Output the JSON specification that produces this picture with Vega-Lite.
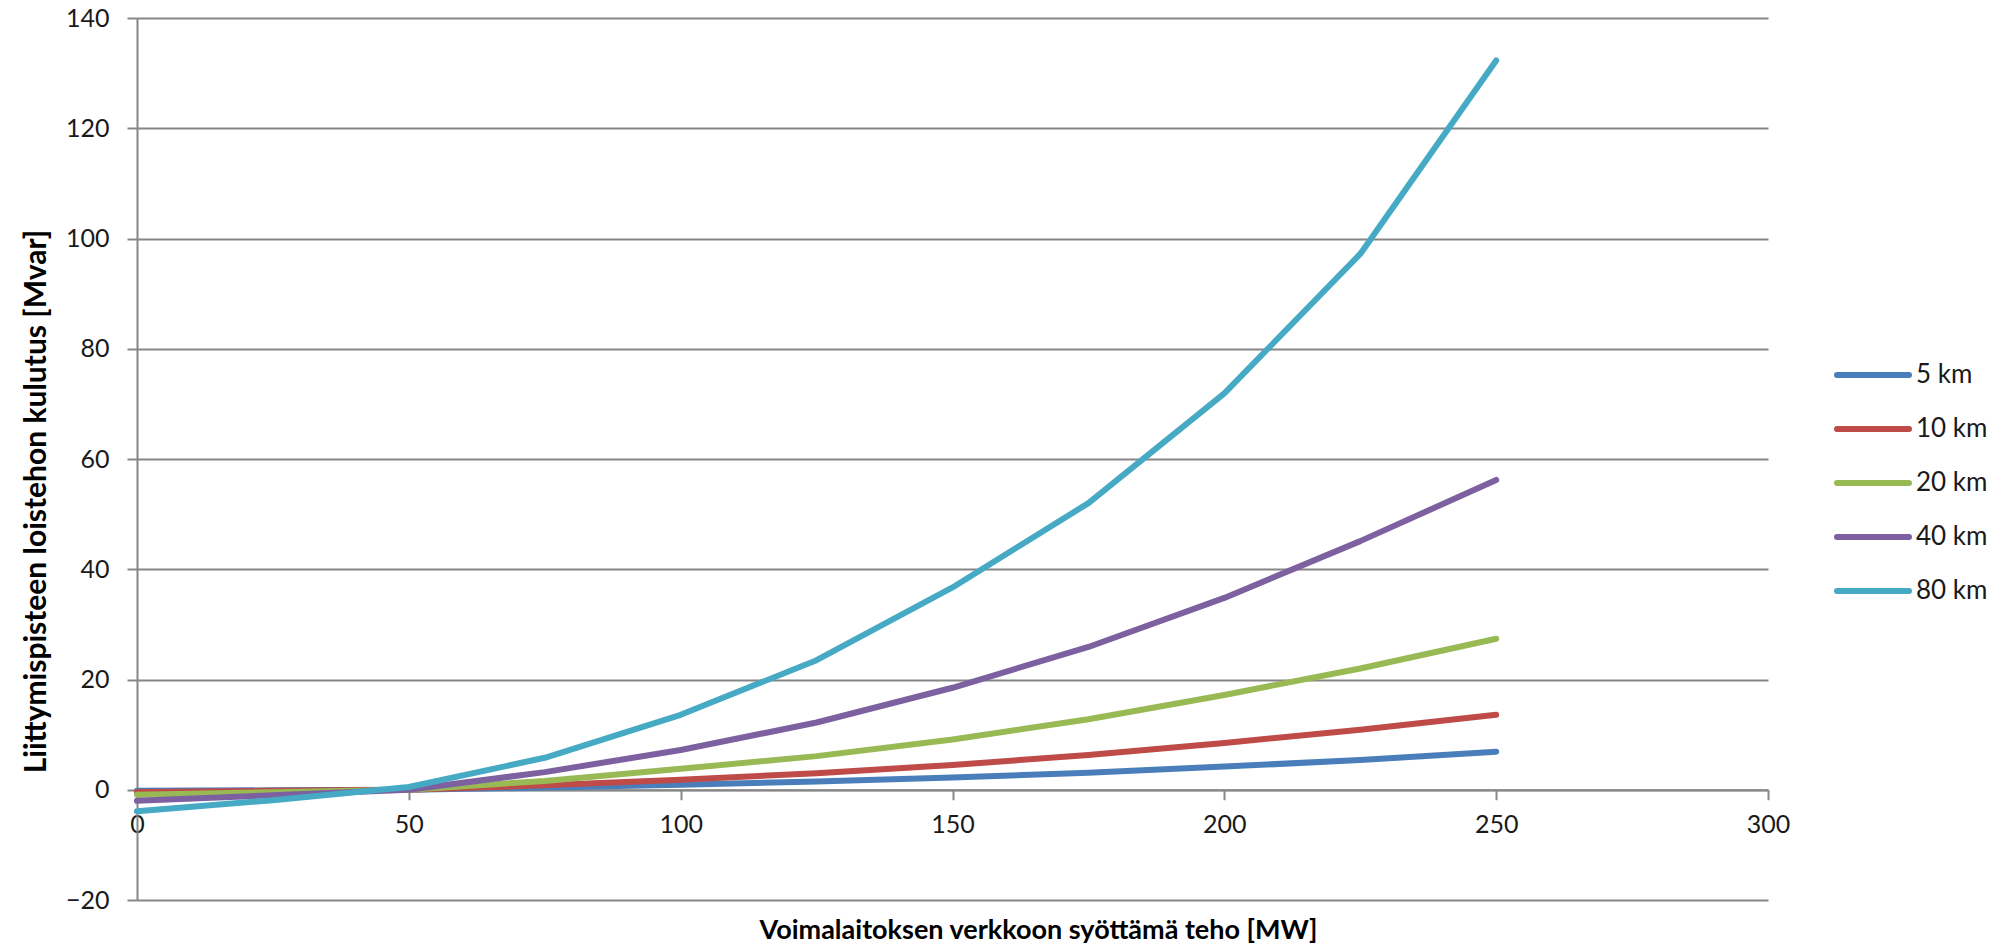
{
  "$schema": "https://vega.github.io/schema/vega-lite/v6.json",
  "autosize": "none",
  "width": 1631,
  "height": 882,
  "padding": {"left": 137, "top": 18, "right": 226, "bottom": 50},
  "background": "white",
  "config": {
    "font": "Lato",
    "view": {"stroke": null},
    "axis": {
      "labelFont": "Lato", "labelFontSize": 25, "labelColor": "#1a1a1a",
      "titleFont": "Lato", "titleFontSize": 27, "titleFontWeight": "bold", "titleColor": "#000000",
      "domainColor": "#868686", "domainWidth": 2, "tickColor": "#868686", "tickWidth": 2, "tickSize": 10,
      "gridColor": "#868686", "gridWidth": 2, "gridOpacity": 1
    }
  },
  "data": {"values": [
    {"P": 0, "S": "5 km", "Q": -0.2}, {"P": 25, "S": "5 km", "Q": -0.1}, {"P": 50, "S": "5 km", "Q": 0}, {"P": 75, "S": "5 km", "Q": 0.4}, {"P": 100, "S": "5 km", "Q": 0.9}, {"P": 125, "S": "5 km", "Q": 1.5}, {"P": 150, "S": "5 km", "Q": 2.2}, {"P": 175, "S": "5 km", "Q": 3.1}, {"P": 200, "S": "5 km", "Q": 4.2}, {"P": 225, "S": "5 km", "Q": 5.4}, {"P": 250, "S": "5 km", "Q": 6.9},
    {"P": 0, "S": "10 km", "Q": -0.4}, {"P": 25, "S": "10 km", "Q": -0.2}, {"P": 50, "S": "10 km", "Q": 0}, {"P": 75, "S": "10 km", "Q": 0.8}, {"P": 100, "S": "10 km", "Q": 1.8}, {"P": 125, "S": "10 km", "Q": 3.0}, {"P": 150, "S": "10 km", "Q": 4.5}, {"P": 175, "S": "10 km", "Q": 6.3}, {"P": 200, "S": "10 km", "Q": 8.5}, {"P": 225, "S": "10 km", "Q": 10.9}, {"P": 250, "S": "10 km", "Q": 13.6},
    {"P": 0, "S": "20 km", "Q": -0.9}, {"P": 25, "S": "20 km", "Q": -0.45}, {"P": 50, "S": "20 km", "Q": 0}, {"P": 75, "S": "20 km", "Q": 1.6}, {"P": 100, "S": "20 km", "Q": 3.8}, {"P": 125, "S": "20 km", "Q": 6.1}, {"P": 150, "S": "20 km", "Q": 9.1}, {"P": 175, "S": "20 km", "Q": 12.8}, {"P": 200, "S": "20 km", "Q": 17.2}, {"P": 225, "S": "20 km", "Q": 22.0}, {"P": 250, "S": "20 km", "Q": 27.4},
    {"P": 0, "S": "40 km", "Q": -2.0}, {"P": 25, "S": "40 km", "Q": -1.0}, {"P": 50, "S": "40 km", "Q": 0}, {"P": 75, "S": "40 km", "Q": 3.2}, {"P": 100, "S": "40 km", "Q": 7.2}, {"P": 125, "S": "40 km", "Q": 12.2}, {"P": 150, "S": "40 km", "Q": 18.5}, {"P": 175, "S": "40 km", "Q": 25.9}, {"P": 200, "S": "40 km", "Q": 34.8}, {"P": 225, "S": "40 km", "Q": 45.1}, {"P": 250, "S": "40 km", "Q": 56.2},
    {"P": 0, "S": "80 km", "Q": -3.9}, {"P": 25, "S": "80 km", "Q": -1.9}, {"P": 50, "S": "80 km", "Q": 0.5}, {"P": 75, "S": "80 km", "Q": 5.8}, {"P": 100, "S": "80 km", "Q": 13.6}, {"P": 125, "S": "80 km", "Q": 23.5}, {"P": 150, "S": "80 km", "Q": 36.7}, {"P": 175, "S": "80 km", "Q": 52.0}, {"P": 200, "S": "80 km", "Q": 71.9}, {"P": 225, "S": "80 km", "Q": 97.2}, {"P": 250, "S": "80 km", "Q": 132.3}
  ]},
  "mark": {"type": "line", "strokeWidth": 6, "strokeCap": "round", "strokeJoin": "round"},
  "encoding": {
    "x": {
      "field": "P", "type": "quantitative",
      "scale": {"domain": [0, 300], "nice": false, "zero": false},
      "axis": {
        "title": "Voimalaitoksen verkkoon syöttämä teho [MW]",
        "values": [0, 50, 100, 150, 200, 250, 300],
        "grid": false, "offset": -110.25, "labelPadding": 13,
        "labelFlush": false, "labelOverlap": false,
        "titleX": 901, "titleY": 141, "titleBaseline": "middle", "titleAnchor": null
      }
    },
    "y": {
      "field": "Q", "type": "quantitative",
      "scale": {"domain": [-20, 140], "nice": false, "zero": false},
      "axis": {
        "title": "Liittymispisteen loistehon kulutus [Mvar]",
        "titleFontSize": 30,
        "values": [-20, 0, 20, 40, 60, 80, 100, 120, 140],
        "grid": true, "labelPadding": 18,
        "titleX": -101, "titleY": 483, "titleBaseline": "middle", "titleAlign": "center", "titleAngle": -90
      }
    },
    "color": {
      "field": "S", "type": "nominal",
      "sort": ["5 km", "10 km", "20 km", "40 km", "80 km"],
      "scale": {"domain": ["5 km", "10 km", "20 km", "40 km", "80 km"], "range": ["#4A7EBB", "#BE4B48", "#98B954", "#7D60A0", "#46AAC5"]},
      "legend": {
        "title": null, "orient": "none", "legendX": 1723, "legendY": 344,
        "symbolType": "M-3.6,0H3.6", "symbolSize": 400, "symbolStrokeWidth": 6,
        "labelFont": "Lato", "labelFontSize": 26, "labelColor": "#1a1a1a", "labelOffset": 30,
        "rowPadding": 28, "padding": 0,
        "encode": {"symbols": {"update": {"strokeCap": {"value": "round"}}}}
      }
    }
  }
}
